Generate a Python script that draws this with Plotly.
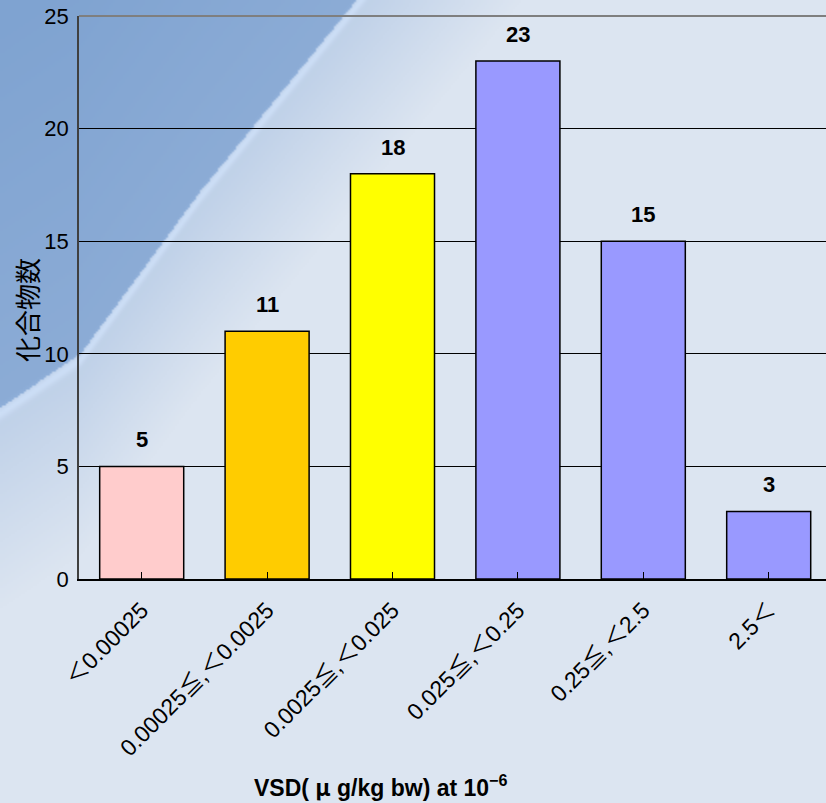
import base64
import struct
import zlib

import numpy as np
import plotly.graph_objects as go

# ---- data -------------------------------------------------------------
categories = [
    "＜0.00025",
    "0.00025≦,＜0.0025",
    "0.0025≦,＜0.025",
    "0.025≦,＜0.25",
    "0.25≦,＜2.5",
    "2.5＜",
]
counts = [5, 11, 18, 23, 15, 3]
y_ticks = [0, 5, 10, 15, 20, 25]

# ---- styling ----------------------------------------------------------
bar_colors = ["#FFCCCC", "#FFCC00", "#FFFF00", "#9999FF", "#9999FF", "#9999FF"]
FONT = "Liberation Sans, Noto Sans CJK JP"
CJK = "Noto Sans CJK JP"
W, H = 826, 803
M_L, M_R, M_T, M_B = 79, 0, 16, 224


def make_png(rgb):
    """Encode an (h, w, 3) uint8 array as a PNG data URI."""
    h, w, _ = rgb.shape
    raw = b"".join(b"\x00" + rgb[r].tobytes() for r in range(h))

    def chunk(tag, data):
        c = struct.pack(">I", len(data)) + tag + data
        return c + struct.pack(">I", zlib.crc32(tag + data) & 0xFFFFFFFF)

    png = b"\x89PNG\r\n\x1a\n"
    png += chunk(b"IHDR", struct.pack(">IIBBBBB", w, h, 8, 2, 0, 0, 0))
    png += chunk(b"IDAT", zlib.compress(raw, 9))
    png += chunk(b"IEND", b"")
    return "data:image/png;base64," + base64.b64encode(png).decode()


def slide_background(step=2):
    """Soft blue slide backdrop: darker upper-left, pale towards bottom/right."""
    xs = np.arange(0, W, step, dtype=float)
    ys = np.arange(0, H, step, dtype=float)
    X, Y = np.meshgrid(xs, ys)
    edge = np.interp(X, [0, 80, 200, 355, 600, 826], [407, 353, 190, 0, -300, -560])
    d = Y - edge
    dark = np.array([127, 163, 209], float)
    mid = np.array([190, 208, 232], float)
    light = np.array([220, 229, 241], float)
    t = np.clip(d / 200.0, 0, 1)[..., None]
    below = mid + (light - mid) * t
    shade = np.clip(-d / 400.0, 0, 1)[..., None]
    above = dark + (np.array([140, 172, 214], float) - dark) * (1 - shade)
    img = np.where((d < 0)[..., None], above, below)
    glow = np.exp(-((d - 6) / 6.0) ** 2)[..., None] * 14
    img = np.clip(img + glow, 0, 255).astype(np.uint8)
    return make_png(img)


x_idx = list(range(len(categories)))

fig = go.Figure()
fig.add_trace(
    go.Bar(
        x=x_idx,
        y=counts,
        marker=dict(color=bar_colors, line=dict(color="#000000", width=1.5)),
        hoverinfo="skip",
    )
)

# value labels above each bar
for xi, v in zip(x_idx, counts):
    fig.add_annotation(
        x=xi, y=v, text=f"<b>{v}</b>", showarrow=False,
        yanchor="bottom", yshift=12,
        font=dict(family=FONT, size=22, color="#000000"),
    )

pw = W - M_L - M_R
ph = H - M_T - M_B

# axis titles
fig.add_annotation(
    xref="paper", yref="paper",
    x=(381 - M_L) / pw, y=(H - M_B - 786) / ph,
    text=(f"<b>VSD( <span style='font-family:{CJK}'>μ</span> g/kg bw) "
          "at 10<sup>−6</sup></b>"),
    showarrow=False, xanchor="center", yanchor="middle",
    font=dict(family=FONT, size=23, color="#000000"),
)
fig.add_annotation(
    xref="paper", yref="paper",
    x=(26 - M_L) / pw, y=(H - M_B - 310) / ph,
    text="化合物数", textangle=-90, showarrow=False,
    xanchor="center", yanchor="middle",
    font=dict(family=CJK, size=26, color="#000000"),
)

# plot-area top border
fig.add_shape(
    type="line", xref="paper", yref="paper", x0=0, x1=1, y0=1, y1=1,
    line=dict(color="#7F7F7F", width=2),
)

fig.add_layout_image(
    dict(
        source=slide_background(),
        xref="paper", yref="paper",
        x=-M_L / pw, y=1 + M_T / ph,
        sizex=W / pw, sizey=H / ph,
        xanchor="left", yanchor="top",
        sizing="stretch", layer="below",
    )
)

fig.update_layout(
    width=W, height=H,
    margin=dict(l=M_L, r=M_R, t=M_T, b=M_B, pad=0),
    paper_bgcolor="#DCE5F1",
    plot_bgcolor="#C0C0C0",
    bargap=0.33,
    showlegend=False,
    font=dict(family=FONT, color="#000000"),
)
fig.update_xaxes(
    range=[-0.5, -0.5 + pw / 125.4],
    tickmode="array", tickvals=x_idx, ticktext=categories,
    tickangle=-45, tickfont=dict(size=23),
    ticks="inside", tickson="boundaries", ticklen=7, tickcolor="#000000",
    showline=True, linecolor="#000000", linewidth=1.5,
    showgrid=False, zeroline=False,
    ticklabelstandoff=7,
)
fig.update_yaxes(
    range=[0, 25.002],
    tickmode="array", tickvals=y_ticks,
    tickfont=dict(size=22),
    ticks="inside", ticklen=6, tickcolor="#000000",
    showline=True, linecolor="#404040", linewidth=1.5,
    showgrid=True, gridcolor="#000000", gridwidth=1,
    zeroline=False,
    ticklabelstandoff=4,
)

fig.write_html("out.html")
